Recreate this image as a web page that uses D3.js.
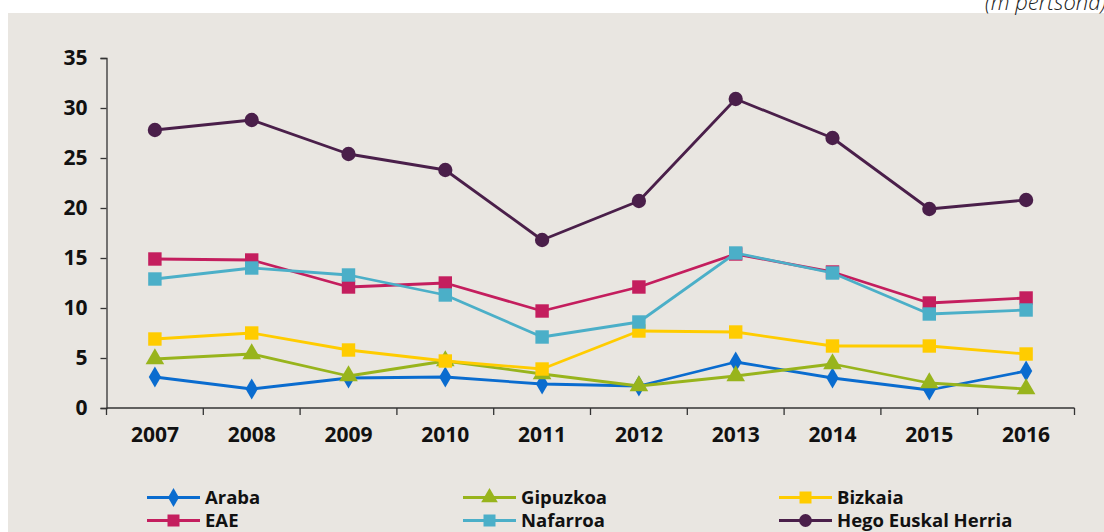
<!DOCTYPE html>
<html>
<head>
<meta charset="utf-8">
<script src="https://cdn.jsdelivr.net/npm/d3@7"></script>
<style>
  html, body { margin: 0; padding: 0; background: #ffffff; }
  svg { display: block; }
  text { font-family: "Open Sans", "DejaVu Sans", sans-serif; }
</style>
</head>
<body>
<svg id="chart" width="1104" height="532"></svg>
<script>
// Years on the horizontal axis
const years = ["2007", "2008", "2009", "2010", "2011", "2012", "2013", "2014", "2015", "2016"];

// Values per territory (thousands of people)
const araba    = [3.1, 1.9, 3.0, 3.1, 2.4, 2.2, 4.6, 3.0, 1.8, 3.7];
const gipuzkoa = [4.9, 5.4, 3.2, 4.7, 3.4, 2.2, 3.2, 4.4, 2.5, 1.9];
const bizkaia  = [6.9, 7.5, 5.8, 4.7, 3.9, 7.7, 7.6, 6.2, 6.2, 5.4];
const eae      = [14.9, 14.8, 12.1, 12.5, 9.7, 12.1, 15.4, 13.6, 10.5, 11.0];
const nafarroa = [12.9, 14.0, 13.3, 11.3, 7.1, 8.6, 15.5, 13.5, 9.4, 9.8];
const hego     = [27.8, 28.8, 25.4, 23.8, 16.8, 20.7, 30.9, 27.0, 19.9, 20.8];

const yTicks = [0, 5, 10, 15, 20, 25, 30, 35];

const seriesNames = ["Araba", "Gipuzkoa", "Bizkaia", "EAE", "Nafarroa", "Hego Euskal Herria"];
const seriesValues = [araba, gipuzkoa, bizkaia, eae, nafarroa, hego];
const seriesColors = ["#0a6ccf", "#98b41c", "#ffcc00", "#c41e5e", "#4bafc8", "#4a1f4a"];
const seriesSymbols = [d3.symbolDiamond, d3.symbolTriangle, d3.symbolSquare, d3.symbolSquare, d3.symbolSquare, d3.symbolCircle];
const symbolSizes = [130, 150, 180, 180, 180, 160];

const series = seriesNames.map((name, i) => ({
  name,
  values: seriesValues[i],
  color: seriesColors[i],
  symbol: seriesSymbols[i],
  size: symbolSizes[i]
}));

const svg = d3.select("#chart");
const W = 1104, H = 532;

// panel background
svg.append("rect").attr("x", 8).attr("y", 13).attr("width", W - 8).attr("height", H - 13).attr("fill", "#e9e6e1");

// unit note at the top right (runs past the canvas edge)
svg.append("text")
  .attr("x", 985).attr("y", 10)
  .attr("font-size", 22).attr("font-style", "italic").attr("font-weight", 300)
  .attr("fill", "#222")
  .text("(m pertsona)");

const plot = { left: 106.5, right: 1074.5, top: 58, bottom: 408 };

const x = d3.scaleBand().domain(years).range([plot.left, plot.right]);
const y = d3.scaleLinear().domain([0, 35]).range([plot.bottom, plot.top]);

// y axis
const yAxis = svg.append("g").attr("transform", `translate(${plot.left},0)`)
  .call(d3.axisLeft(y).tickValues(yTicks).tickSize(6).tickPadding(13).tickFormat(d3.format("d")));
yAxis.select(".domain").attr("stroke", "#333").attr("stroke-width", 1.3);
yAxis.selectAll(".tick line").attr("stroke", "#333").attr("stroke-width", 1.3);
yAxis.selectAll(".tick text").attr("font-size", 21).attr("font-weight", 700).attr("fill", "#111")
  .attr("font-family", "'Open Sans', sans-serif");

// x axis with ticks at category boundaries
const xAxisG = svg.append("g").attr("transform", `translate(0,${plot.bottom})`);
xAxisG.append("line").attr("x1", plot.left).attr("x2", plot.right).attr("stroke", "#333").attr("stroke-width", 1.3);
const bounds = years.map(yr => x(yr)).concat([x(years[years.length - 1]) + x.bandwidth()]);
xAxisG.selectAll("line.bt").data(bounds).join("line")
  .attr("class", "bt")
  .attr("x1", d => d).attr("x2", d => d).attr("y1", 0).attr("y2", 7)
  .attr("stroke", "#333").attr("stroke-width", 1.3);
xAxisG.selectAll("text").data(years).join("text")
  .attr("x", d => x(d) + x.bandwidth() / 2)
  .attr("y", 34)
  .attr("text-anchor", "middle")
  .attr("font-size", 21).attr("font-weight", 700).attr("fill", "#111")
  .text(d => d);

const cx = i => x(years[i]) + x.bandwidth() / 2;
const line = d3.line().x((d, i) => cx(i)).y(d => y(d));

// lines and markers
series.forEach(s => {
  const g = svg.append("g");
  g.append("path").datum(s.values)
    .attr("d", line).attr("fill", "none")
    .attr("stroke", s.color).attr("stroke-width", 2.8).attr("stroke-linejoin", "round");
  g.selectAll("path.m").data(s.values).join("path")
    .attr("class", "m")
    .attr("transform", (d, i) => `translate(${cx(i)},${y(d)})`)
    .attr("d", d3.symbol().type(s.symbol).size(s.size))
    .attr("fill", s.color);
});

// legend: three columns, two rows
const legCols = [147, 463, 779];
const legRows = [497.5, 520.5];
series.forEach((s, i) => {
  const lx = legCols[i % 3];
  const ly = legRows[Math.floor(i / 3)];
  const g = svg.append("g").attr("transform", `translate(${lx},${ly})`);
  g.append("line").attr("x1", 0).attr("x2", 53).attr("y1", 0).attr("y2", 0)
    .attr("stroke", s.color).attr("stroke-width", 2.8);
  g.append("path").attr("transform", "translate(26.5,0)")
    .attr("d", d3.symbol().type(s.symbol).size(s.size * 0.8))
    .attr("fill", s.color);
  g.append("text").attr("x", 58).attr("y", 6.5)
    .attr("font-family", "'DejaVu Sans Condensed', 'DejaVu Sans', sans-serif")
    .attr("font-size", 18.5).attr("font-weight", 700).attr("fill", "#111")
    .text(s.name);
});
</script>
</body>
</html>
